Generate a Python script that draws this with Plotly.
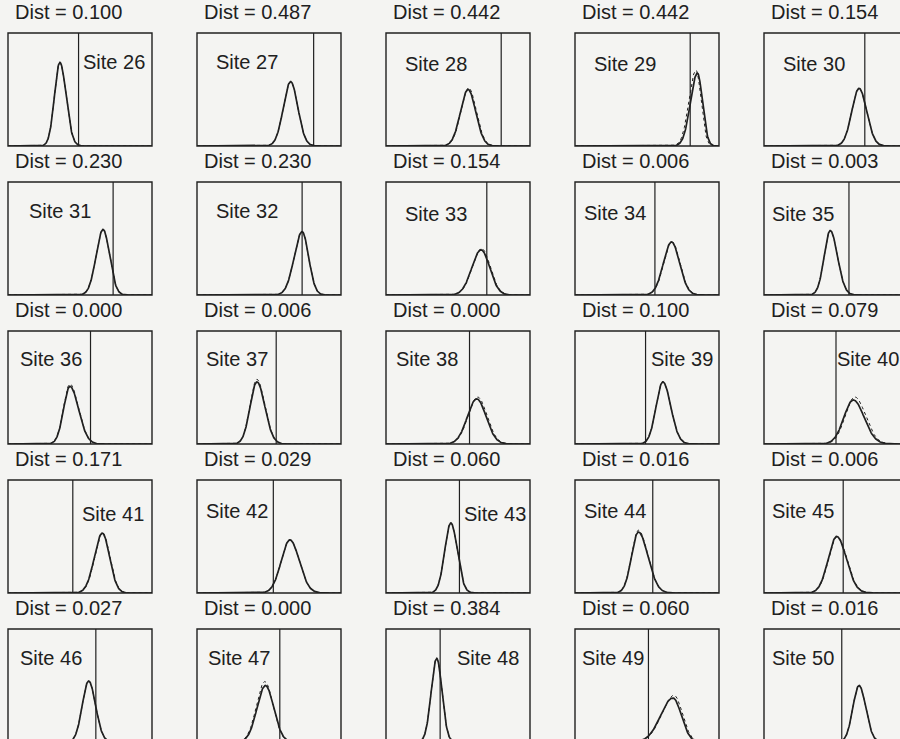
import numpy as np
import plotly.graph_objects as go

# ---- data: one entry per site panel (positions are fractions of the panel) ----
sites = list(range(26, 51))
dist = [0.100, 0.487, 0.442, 0.442, 0.154,
        0.230, 0.230, 0.154, 0.006, 0.003,
        0.000, 0.006, 0.000, 0.100, 0.079,
        0.171, 0.029, 0.060, 0.016, 0.006,
        0.027, 0.000, 0.384, 0.060, 0.016]
# observed value (vertical reference line)
observed = [0.49, 0.81, 0.80, 0.80, 0.70,
            0.73, 0.73, 0.70, 0.555, 0.59,
            0.573, 0.55, 0.58, 0.49, 0.50,
            0.45, 0.53, 0.51, 0.54, 0.55,
            0.61, 0.575, 0.376, 0.51, 0.54]
# null distribution: mode, height, left/right spread
mode = [0.36, 0.65, 0.57, 0.85, 0.66,
        0.66, 0.73, 0.66, 0.67, 0.46,
        0.43, 0.416, 0.63, 0.61, 0.62,
        0.655, 0.645, 0.45, 0.44, 0.505,
        0.56, 0.475, 0.352, 0.68, 0.66]
height = [0.74, 0.57, 0.50, 0.645, 0.51,
          0.58, 0.56, 0.40, 0.47, 0.57,
          0.51, 0.55, 0.40, 0.55, 0.39,
          0.53, 0.47, 0.62, 0.54, 0.50,
          0.54, 0.50, 0.74, 0.39, 0.50]
spread_left = [0.037, 0.050, 0.053, 0.048, 0.050,
               0.048, 0.055, 0.064, 0.056, 0.042,
               0.044, 0.047, 0.065, 0.047, 0.065,
               0.055, 0.060, 0.042, 0.047, 0.059,
               0.044, 0.058, 0.038, 0.085, 0.043]
spread_right = [0.043, 0.050, 0.053, 0.035, 0.053,
                0.045, 0.045, 0.060, 0.056, 0.050,
                0.060, 0.055, 0.065, 0.055, 0.075,
                0.050, 0.065, 0.045, 0.066, 0.067,
                0.048, 0.058, 0.037, 0.058, 0.047]
# second (dotted) estimate: offset of mode and relative height
alt_shift = [0.000, 0.000, 0.004, -0.010, 0.000,
             0.000, 0.000, 0.004, 0.003, 0.000,
             0.000, 0.000, 0.006, 0.000, 0.010,
             0.003, 0.000, 0.000, 0.000, 0.003,
             0.000, -0.004, 0.000, 0.008, 0.000]
alt_height = [1.00, 1.00, 1.03, 1.04, 1.00,
              1.00, 1.00, 1.03, 1.00, 1.00,
              1.04, 1.04, 1.04, 1.00, 1.07,
              1.00, 1.00, 1.00, 1.03, 1.00,
              1.00, 1.07, 1.00, 1.06, 1.00]
# site label placement
label_x = [0.51, 0.12, 0.12, 0.12, 0.12,
           0.13, 0.12, 0.12, 0.05, 0.04,
           0.07, 0.05, 0.055, 0.515, 0.495,
           0.50, 0.05, 0.53, 0.05, 0.04,
           0.07, 0.06, 0.476, 0.035, 0.04]
label_y = [0.26, 0.26, 0.27, 0.27, 0.27,
           0.26, 0.26, 0.28, 0.27, 0.28,
           0.25, 0.25, 0.25, 0.25, 0.25,
           0.30, 0.27, 0.30, 0.27, 0.27,
           0.26, 0.26, 0.26, 0.26, 0.26]

# ---- page geometry (pixels) ----
W, H = 900, 739
col_left = [8, 197, 386, 575, 764]
row_top = [33, 182, 331, 480, 629]
PW, PH = 144, 113
INK = "#202020"
FONT = "Liberation Sans, Arial, Helvetica, sans-serif"

fig = go.Figure()
xs = np.linspace(0, 1, 400)

def density(x, mu, h, sl, sr):
    s = np.where(x < mu, sl, sr)
    return h * np.exp(-0.5 * ((x - mu) / s) ** 2)

shapes, annotations = [], []
for i, site in enumerate(sites):
    r, c = divmod(i, 5)
    n = i + 1
    ax = "" if n == 1 else str(n)
    x0, top = col_left[c], row_top[r]
    x1, bottom = x0 + PW, top + PH
    vis_right, vis_bottom = min(x1, W), min(bottom, H)

    fig.update_layout(**{
        f"xaxis{ax}": dict(domain=[x0 / W, vis_right / W],
                           range=[0, (vis_right - x0) / PW],
                           visible=False, fixedrange=True),
        f"yaxis{ax}": dict(domain=[1 - vis_bottom / H, 1 - top / H],
                           range=[(bottom - vis_bottom) / PH, 1],
                           visible=False, fixedrange=True),
    })
    xr, yr = f"x{ax}", f"y{ax}"

    # observed value
    fig.add_trace(go.Scatter(x=[observed[i], observed[i]], y=[0, 1],
                             mode="lines", line=dict(color=INK, width=1.2),
                             xaxis=xr, yaxis=yr, showlegend=False, hoverinfo="skip"))
    # dotted estimate
    fig.add_trace(go.Scatter(x=xs, y=density(xs, mode[i] + alt_shift[i], height[i] * alt_height[i],
                                             spread_left[i], spread_right[i]),
                             mode="lines", line=dict(color=INK, width=1, dash="dot"),
                             xaxis=xr, yaxis=yr, showlegend=False, hoverinfo="skip"))
    # solid estimate
    fig.add_trace(go.Scatter(x=xs, y=density(xs, mode[i], height[i],
                                             spread_left[i], spread_right[i]),
                             mode="lines", line=dict(color=INK, width=1.7),
                             xaxis=xr, yaxis=yr, showlegend=False, hoverinfo="skip"))

    # panel frame
    shapes.append(dict(type="rect", xref="paper", yref="paper",
                       x0=x0 / W, x1=x1 / W, y0=1 - bottom / H, y1=1 - top / H,
                       line=dict(color=INK, width=1.4), fillcolor="rgba(0,0,0,0)"))
    annotations.append(dict(xref=xr, yref=yr, x=5 / PW, y=1, yshift=21,
                            xanchor="left", yanchor="middle", showarrow=False,
                            text=f"Dist = {dist[i]:.3f}",
                            font=dict(family=FONT, size=20, color=INK)))
    annotations.append(dict(xref=xr, yref=yr, x=label_x[i], y=1 - label_y[i],
                            xanchor="left", yanchor="middle", showarrow=False,
                            text=f"Site {site}",
                            font=dict(family=FONT, size=20, color=INK)))

fig.update_layout(width=W, height=H, margin=dict(l=0, r=0, t=0, b=0),
                  paper_bgcolor="#f4f4f2", plot_bgcolor="#f4f4f2",
                  shapes=shapes, annotations=annotations, showlegend=False)
fig.write_html("out.html", config={"displayModeBar": False})
